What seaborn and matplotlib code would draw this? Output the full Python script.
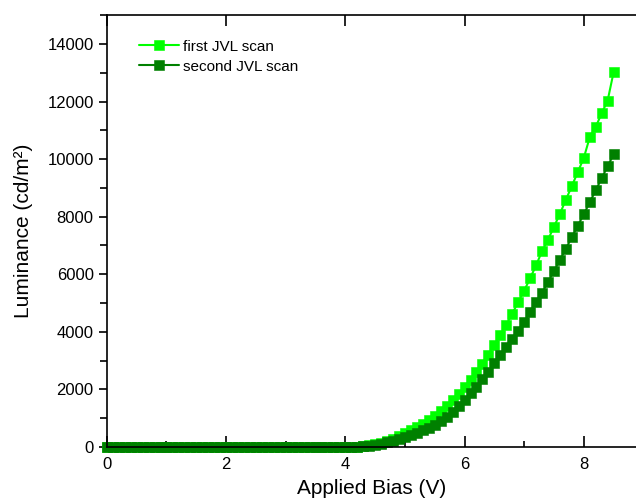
"""Luminance vs applied bias for two JVL scans."""

# %%
import numpy as np
import pandas as pd
import matplotlib
matplotlib.use("Agg")
import matplotlib.pyplot as plt
from matplotlib.ticker import MultipleLocator
import seaborn as sns

# %% Data (bias sweep 0 -> 8.5 V in 0.1 V steps)
bias = np.round(np.arange(86) * 0.1, 1)

first_scan = [
    0, 0, 0, 0, 0, 0, 0, 0, 0, 0,
    0, 0, 0, 0, 0, 0, 0, 0, 0, 0,
    0, 0, 0, 0, 0, 0, 0, 0, 0, 0,
    0, 0, 0, 0, 0, 0, 0, 0, 0, 0,
    0, 4, 12, 30, 60, 100, 150, 215, 290, 380,
    480, 580, 690, 800, 940, 1080, 1250, 1425, 1620, 1840,
    2085, 2330, 2615, 2895, 3205, 3555, 3890, 4250, 4630, 5035,
    5430, 5860, 6310, 6800, 7200, 7650, 8100, 8590, 9065, 9550,
    10040, 10755, 11115, 11590, 12030, 13015,
]
second_scan = [
    0, 0, 0, 0, 0, 0, 0, 0, 0, 0,
    0, 0, 0, 0, 0, 0, 0, 0, 0, 0,
    0, 0, 0, 0, 0, 0, 0, 0, 0, 0,
    0, 0, 0, 0, 0, 0, 0, 0, 0, 0,
    0, 3, 10, 25, 50, 80, 120, 165, 220, 285,
    355, 425, 500, 580, 670, 775, 905, 1050, 1225, 1425,
    1635, 1865, 2095, 2350, 2615, 2905, 3195, 3485, 3760, 4040,
    4350, 4690, 5025, 5360, 5730, 6115, 6495, 6890, 7290, 7690,
    8085, 8500, 8915, 9335, 9750, 10165,
]
scan_names = ["first JVL scan", "second JVL scan"]
scan_colors = ["#00ff00", "#008000"]

df = pd.concat([
    pd.DataFrame({"bias": bias, "lum": first_scan, "scan": scan_names[0]}),
    pd.DataFrame({"bias": bias, "lum": second_scan, "scan": scan_names[1]}),
])

# %% Plot
sns.set_style("ticks")
plt.rcParams["font.family"] = ["Liberation Sans", "DejaVu Sans"]
plt.rcParams.update({"text.color": "black", "axes.labelcolor": "black",
                     "xtick.color": "black", "ytick.color": "black"})

fig = plt.figure(figsize=(6.36, 5.04), dpi=100)
ax = fig.add_axes([0.168, 0.113, 0.832, 0.857])

for name, color in zip(scan_names, scan_colors):
    sns.lineplot(data=df[df["scan"] == name], x="bias", y="lum", ax=ax,
                 color=color, marker="s", markersize=6.8, markeredgewidth=0.4,
                 markeredgecolor=color, linewidth=1.5, label=name, clip_on=False)

ax.set_xlim(0, 8.876)
ax.set_ylim(0, 15000)
ax.xaxis.set_major_locator(MultipleLocator(2))
ax.xaxis.set_minor_locator(MultipleLocator(1))
ax.yaxis.set_major_locator(MultipleLocator(2000))
ax.yaxis.set_minor_locator(MultipleLocator(1000))

ax.tick_params(axis="x", which="major", direction="in", length=8, width=1.2,
               top=True, labelsize=12, pad=7)
ax.tick_params(axis="x", which="minor", direction="in", length=4, width=1.2,
               top=False)
ax.tick_params(axis="y", which="major", direction="out", length=6, width=1.2,
               labelsize=12)
ax.tick_params(axis="y", which="minor", direction="out", length=5, width=1.2)

for side in ["left", "bottom", "top"]:
    ax.spines[side].set_linewidth(1.2)
    ax.spines[side].set_color("black")
ax.spines["right"].set_visible(False)

ax.set_xlabel("Applied Bias (V)", fontsize=15, labelpad=5)
ax.set_ylabel("Luminance (cd/m²)", fontsize=15, labelpad=10)

ax.legend(loc="upper left", bbox_to_anchor=(0.035, 0.975), frameon=False,
          fontsize=11, handlelength=2.6, handletextpad=0.3, labelspacing=0.4)

fig.savefig("out.png", dpi=100)
